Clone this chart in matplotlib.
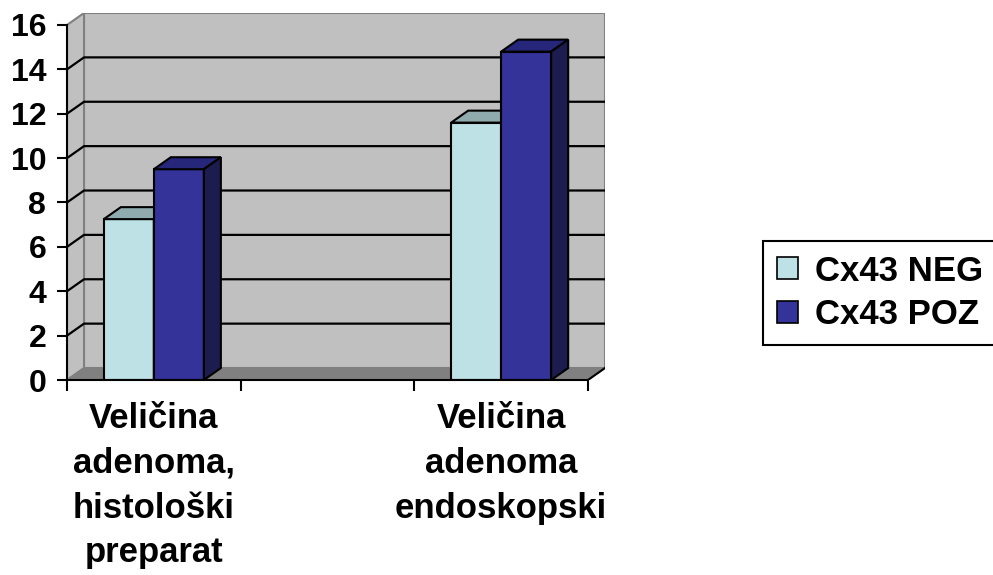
import numpy as np
import matplotlib
matplotlib.use('Agg')
import matplotlib.pyplot as plt
from matplotlib.patches import Polygon, Patch

# data (middle category is an empty slot)
categories = ['Veličina\nadenoma,\nhistološki\npreparat', '', 'Veličina\nadenoma\nendoskopski']
cx43_neg = [7.25, np.nan, 11.6]
cx43_poz = [9.5, np.nan, 14.8]
series_names = ['Cx43 NEG', 'Cx43 POZ']
y_ticks = [0, 2, 4, 6, 8, 10, 12, 14, 16]

plt.rcParams['font.family'] = ['Liberation Sans', 'DejaVu Sans']
plt.rcParams['font.weight'] = 'bold'

W, H = 993, 575
fig = plt.figure(figsize=(W / 100, H / 100), dpi=100)
# axes box in pixels: left 67, right 605, bottom y=380, top y=13 (from top)
ax = fig.add_axes([67 / W, (H - 380) / H, (605 - 67) / W, (380 - 13) / H])

ymax = 16
x0, x1 = -0.5, len(categories) - 0.5
dx, dy = 0.098, 0.54          # 3D depth offset in data units
ax.set_xlim(x0, x1 + dx)
ax.set_ylim(0, ymax + dy)

wall = '#c0c0c0'
floor = '#808080'
edge_gray = '#808080'

# walls and floor
ax.add_patch(Polygon([(x0 + dx, dy), (x1 + dx, dy), (x1 + dx, ymax + dy), (x0 + dx, ymax + dy)],
                     closed=True, fc=wall, ec=edge_gray, lw=1.5, zorder=1))
ax.add_patch(Polygon([(x0, 0), (x0 + dx, dy), (x0 + dx, ymax + dy), (x0, ymax)],
                     closed=True, fc=wall, ec=edge_gray, lw=1.5, zorder=1))
ax.add_patch(Polygon([(x0, 0), (x0 + dx, dy), (x1 + dx, dy), (x1, 0)],
                     closed=True, fc=floor, ec=edge_gray, lw=1.0, zorder=1))
ax.plot([x1, x1 + dx], [0, dy], color='black', lw=1.5, zorder=2)

# gridlines on the back and left walls
for v in y_ticks[1:-1]:
    ax.plot([x0, x0 + dx, x1 + dx], [v, v + dy, v + dy], color='black', lw=1.6, zorder=2)

# bars
x = np.arange(len(categories))
bw = 0.288
specs = [(cx43_neg, -bw / 2, '#bde1e4', '#8fabae', '#7f9a9c'),
         (cx43_poz, bw / 2, '#333399', '#26267a', '#1c1c4f')]
z = 3
for vals, off, front, top, side in specs:
    for xi, v in zip(x, vals):
        if np.isnan(v):
            continue
        l, r = xi + off - bw / 2, xi + off + bw / 2
        ax.bar(xi + off, v, width=bw, color=front, edgecolor='black', linewidth=1.5, zorder=z)
        ax.add_patch(Polygon([(l, v), (l + dx, v + dy), (r + dx, v + dy), (r, v)],
                             closed=True, fc=top, ec='black', lw=1.5, zorder=z))
        ax.add_patch(Polygon([(r, 0), (r + dx, dy), (r + dx, v + dy), (r, v)],
                             closed=True, fc=side, ec='black', lw=1.5, zorder=z))
    z += 1

# axes lines and ticks
for s in ['top', 'right']:
    ax.spines[s].set_visible(False)
ax.spines['left'].set_bounds(0, ymax)
ax.spines['bottom'].set_bounds(x0, x1)
for s in ['left', 'bottom']:
    ax.spines[s].set_linewidth(1.5)
    ax.spines[s].set_zorder(10)
ax.set_yticks(y_ticks)
ax.set_yticklabels([str(t) for t in y_ticks], fontsize=23, fontweight='bold')
ax.tick_params(axis='y', length=7, width=1.5, pad=8)
ax.set_xticks(np.arange(x0, x1 + 0.01, 1.0))
ax.set_xticklabels([])
ax.tick_params(axis='x', which='major', length=8, width=1.5)
ax.set_xticks(x, minor=True)
ax.set_xticklabels(categories, minor=True, fontsize=25, fontweight='bold', linespacing=1.45)
ax.tick_params(axis='x', which='minor', length=0, pad=16)

# legend
handles = [Patch(fc='#bde1e4', ec='black', lw=1.2), Patch(fc='#333399', ec='black', lw=1.2)]
leg = fig.legend(handles, series_names, loc='lower left', bbox_to_anchor=(763 / W, (H - 345) / H),
                 borderaxespad=0, prop={'weight': 'bold', 'size': 25},
                 handlelength=0.6, handleheight=0.6, handletextpad=0.5, labelspacing=0.3,
                 borderpad=0.4, fancybox=False, framealpha=1)
leg.get_frame().set_edgecolor('black')
leg.get_frame().set_linewidth(1.5)

fig.savefig('out.png', dpi=100)
